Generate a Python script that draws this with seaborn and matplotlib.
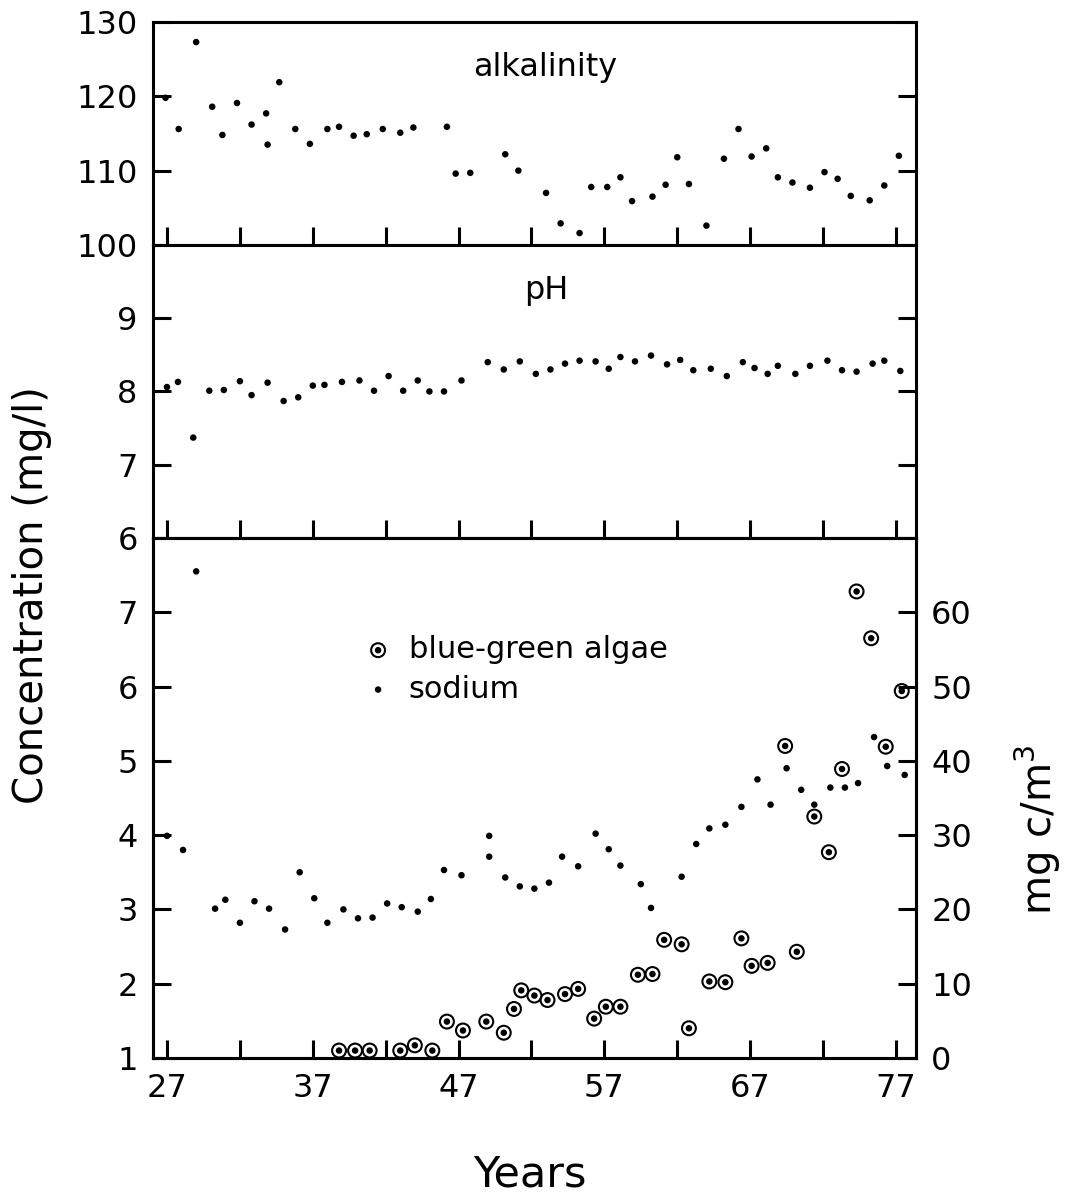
import seaborn as sns
import matplotlib.pyplot as plt
from matplotlib.legend_handler import HandlerTuple

# --- data ---
alk_years = [26.9, 27.8, 29.0, 30.1, 30.8, 31.8, 32.8, 33.8, 33.9, 34.7, 35.8, 36.8,
             38.0, 38.8, 39.8, 40.7, 41.8, 43.0, 43.9, 46.2, 46.8, 47.8, 50.2, 51.1,
             53.0, 54.0, 55.3, 56.1, 57.2, 58.1, 58.9, 60.3, 61.2, 62.0, 62.8, 64.0,
             65.2, 66.2, 67.1, 68.1, 68.9, 69.9, 71.1, 72.1, 73.0, 73.9, 75.2, 76.2, 77.2]
alk_vals = [119.8, 115.6, 127.3, 118.6, 114.8, 119.1, 116.2, 117.7, 113.5, 121.9, 115.6, 113.6,
            115.6, 115.9, 114.7, 114.9, 115.6, 115.1, 115.8, 115.9, 109.6, 109.7, 112.2, 110.0,
            107.0, 102.9, 101.6, 107.8, 107.8, 109.1, 105.9, 106.5, 108.1, 111.8, 108.2, 102.6,
            111.6, 115.6, 111.9, 113.0, 109.1, 108.4, 107.7, 109.8, 108.9, 106.6, 106.0, 108.0, 112.0]

ph_years = [27.0, 27.75, 28.8, 29.9, 30.9, 32.0, 32.8, 33.9, 35.0, 36.0, 37.0, 37.8,
            39.0, 40.2, 41.2, 42.2, 43.2, 44.2, 45.0, 46.0, 47.2, 49.0, 50.1, 51.2,
            52.3, 53.3, 54.3, 55.3, 56.4, 57.3, 58.1, 59.1, 60.2, 61.3, 62.2, 63.1,
            64.3, 65.4, 66.5, 67.3, 68.2, 68.9, 70.1, 71.1, 72.3, 73.3, 74.3, 75.4, 76.2, 77.3]
ph_vals = [8.06, 8.13, 7.37, 8.01, 8.02, 8.14, 7.95, 8.12, 7.87, 7.92, 8.08, 8.09,
           8.13, 8.15, 8.01, 8.21, 8.01, 8.15, 8.00, 8.00, 8.15, 8.40, 8.30, 8.41,
           8.24, 8.30, 8.38, 8.42, 8.41, 8.31, 8.47, 8.41, 8.49, 8.37, 8.43, 8.29,
           8.31, 8.21, 8.40, 8.32, 8.24, 8.35, 8.24, 8.35, 8.42, 8.29, 8.27, 8.38, 8.42, 8.28]

sodium_years = [27.0, 28.1, 29.0, 30.3, 31.0, 32.0, 33.0, 34.0, 35.1, 36.1, 37.1, 38.0,
                39.1, 40.1, 41.1, 42.1, 43.1, 44.2, 45.1, 46.0, 47.2, 49.1, 49.1, 50.2,
                51.2, 52.2, 53.2, 54.1, 55.2, 56.4, 57.3, 58.1, 59.5, 60.2, 62.3, 63.3,
                64.2, 65.3, 66.4, 67.5, 68.4, 69.5, 70.5, 71.4, 72.5, 73.5, 74.4, 75.5,
                76.4, 77.6]
sodium_vals = [3.99, 3.80, 7.55, 3.01, 3.13, 2.82, 3.11, 3.01, 2.73, 3.50, 3.15, 2.82,
               3.00, 2.88, 2.89, 3.08, 3.03, 2.97, 3.14, 3.53, 3.46, 3.99, 3.71, 3.43,
               3.31, 3.28, 3.36, 3.71, 3.58, 4.02, 3.81, 3.59, 3.34, 3.02, 3.44, 3.88,
               4.09, 4.14, 4.38, 4.75, 4.41, 4.90, 4.61, 4.41, 4.64, 4.64, 4.70, 5.32,
               4.93, 4.81]

algae_years = [38.8, 39.9, 40.9, 43.0, 44.0, 45.2, 46.2, 47.3, 48.9, 50.1, 50.8, 51.3,
               52.2, 53.1, 54.3, 55.2, 56.3, 57.1, 58.1, 59.3, 60.3, 61.1, 62.3, 62.8,
               64.2, 65.3, 66.4, 67.1, 68.2, 69.4, 70.2, 71.4, 72.4, 73.3, 74.3, 75.3,
               76.3, 77.4]
algae_vals = [1.0, 1.0, 1.0, 1.0, 1.7, 1.0, 4.9, 3.7, 4.9, 3.4, 6.6, 9.1,
              8.4, 7.8, 8.6, 9.3, 5.3, 6.9, 6.9, 11.2, 11.3, 15.9, 15.3, 4.0,
              10.3, 10.2, 16.1, 12.4, 12.8, 42.0, 14.3, 32.5, 27.7, 38.9, 62.8, 56.5,
              41.9, 49.4]

year_ticks = list(range(27, 78, 5))
year_labels = [str(t) if (t - 27) % 10 == 0 else '' for t in year_ticks]

# --- style ---
sns.set_style('ticks')
plt.rcParams['font.family'] = ['DejaVu Sans']
plt.rcParams['axes.linewidth'] = 2.2
plt.rcParams['axes.edgecolor'] = 'black'
plt.rcParams['text.color'] = 'black'
plt.rcParams['xtick.color'] = 'black'
plt.rcParams['ytick.color'] = 'black'
plt.rcParams['xtick.labelcolor'] = 'black'
plt.rcParams['ytick.labelcolor'] = 'black'

fig = plt.figure(figsize=(10.67, 11.96), dpi=100)
L, W = 0.1434, 0.715
ax1 = fig.add_axes([L, 0.7952, W, 0.1864])
ax2 = fig.add_axes([L, 0.5502, W, 0.2450], sharex=ax1)
ax3 = fig.add_axes([L, 0.1154, W, 0.4348], sharex=ax1)
ax4 = ax3.twinx()

dot = dict(color='black', s=22, linewidth=0, edgecolor='none')
sns.scatterplot(x=alk_years, y=alk_vals, ax=ax1, **dot)
sns.scatterplot(x=ph_years, y=ph_vals, ax=ax2, **dot)
sns.scatterplot(x=sodium_years, y=sodium_vals, ax=ax3, **dot)
# blue-green algae: ring with a dot inside
sns.scatterplot(x=algae_years, y=algae_vals, ax=ax4, color='black', s=100,
                facecolor='none', edgecolor='black', linewidth=1.5)
sns.scatterplot(x=algae_years, y=algae_vals, ax=ax4, **dot)

ax1.set_xlim(26.04, 78.37)
ax1.set_xticks(year_ticks, labels=year_labels)
ax1.set_ylim(100, 130)
ax1.set_yticks([100, 110, 120, 130])
ax2.set_ylim(6, 10)
ax2.set_yticks([6, 7, 8, 9])
ax3.set_ylim(1, 8)
ax3.set_yticks([1, 2, 3, 4, 5, 6, 7])
ax4.set_ylim(0, 70)
ax4.set_yticks([0, 10, 20, 30, 40, 50, 60])

tk = dict(direction='in', length=13, width=2.2, labelsize=23, pad=11,
          color='black', labelcolor='black')
for ax in (ax1, ax2):
    ax.tick_params(axis='both', which='major', left=True, right=True, bottom=True,
                   top=False, labelleft=True, labelright=False, labelbottom=False, **tk)
ax3.tick_params(axis='both', which='major', left=True, right=False, bottom=True,
                top=False, labelleft=True, labelbottom=True, **tk)
ax4.tick_params(axis='y', which='major', right=True, left=False, labelright=True,
                labelleft=False, **tk)

for ax in (ax1, ax2, ax3, ax4):
    ax.set_xlabel('')
    ax.set_ylabel('')
    for sp in ax.spines.values():
        sp.set_visible(True)
        sp.set_linewidth(2.2)
        sp.set_color('black')

ax1.text(0.514, 0.794, 'alkalinity', transform=ax1.transAxes, ha='center', va='center',
         fontsize=23, color='black')
ax2.text(0.516, 0.846, 'pH', transform=ax2.transAxes, ha='center', va='center',
         fontsize=23, color='black')

ring, inner = ax4.collections[0], ax4.collections[1]
sodium_pts = ax3.collections[0]
ax4.legend([(ring, inner), sodium_pts], ['blue-green algae', 'sodium'],
           handler_map={tuple: HandlerTuple(ndivide=1)}, frameon=False,
           loc='upper left', bbox_to_anchor=(0.275, 0.813), fontsize=22,
           handlelength=1.0, handletextpad=0.5, labelspacing=0.34,
           borderpad=0, borderaxespad=0, scatterpoints=1, labelcolor='black')

fig.text(0.030, 0.5025, 'Concentration (mg/l)', rotation=90, ha='center', va='center',
         fontsize=29, color='black')
fig.text(0.973, 0.306, 'mg c/m$^{3}$', rotation=90, ha='center', va='center',
         fontsize=29, color='black')
fig.text(0.497, 0.008, 'Years', ha='center', va='baseline', fontsize=31, color='black')

fig.savefig('out.png', dpi=100)
